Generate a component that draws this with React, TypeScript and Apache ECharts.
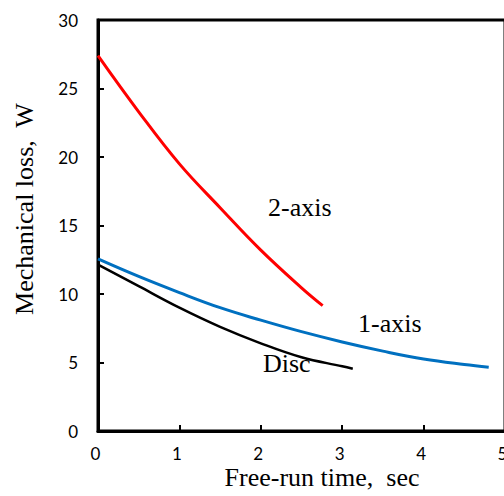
import React, { useEffect, useRef } from "react";
import * as echarts from "echarts";

const xTicks = [0, 1, 2, 3, 4, 5];
const yTicks = [0, 5, 10, 15, 20, 25, 30];

const twoAxisX = [0, 0.5, 1.0, 1.5, 2.0, 2.5, 2.76];
const twoAxisY = [27.4, 23.3, 19.5, 16.3, 13.2, 10.45, 9.15];

const oneAxisX = [0, 0.5, 1.0, 1.5, 2.0, 2.5, 3.0, 3.5, 4.0, 4.5, 4.8];
const oneAxisY = [12.56, 11.28, 10.1, 9.0, 8.09, 7.25, 6.5, 5.83, 5.25, 4.85, 4.66];

const discX = [0, 0.5, 1.0, 1.5, 2.0, 2.5, 3.0, 3.13];
const discY = [12.15, 10.57, 9.0, 7.6, 6.4, 5.38, 4.72, 4.54];

const xTitle = "Free-run time,  sec";
const yTitle = "Mechanical loss,  W";
const labels = ["2-axis", "1-axis", "Disc"];

const zip = (xs: number[], ys: number[]) => xs.map((x, i) => [x, ys[i]]);

export default function App() {
  const ref = useRef<HTMLDivElement>(null);
  useEffect(() => {
    if (!ref.current) return;
    const chart = echarts.init(ref.current, null, { renderer: "svg" });
    const serif = "'Liberation Serif', 'Times New Roman', serif";
    const sans = "Lato, 'Liberation Sans', sans-serif";
    const lineStyleAxis = { color: "#000", width: 3 };
    chart.setOption({
      animation: false,
      backgroundColor: "#fff",
      grid: {
        left: 98,
        top: 20,
        width: 407,
        height: 411,
        show: true,
        borderColor: "#000",
        borderWidth: 3,
        containLabel: false,
        outerBoundsMode: "none",
      },
      xAxis: {
        type: "value",
        min: xTicks[0],
        max: xTicks[xTicks.length - 1],
        interval: 1,
        axisLine: { show: true, lineStyle: lineStyleAxis },
        axisTick: { show: true, inside: true, length: 6, lineStyle: { color: "#000", width: 2 } },
        splitLine: { show: false },
        axisLabel: {
          show: true,
          margin: 14,
          color: "#000",
          fontFamily: sans,
          fontSize: 17,
          showMaxLabel: true,
          showMinLabel: true,
          padding: [0, 5, 0, 0],
        },
      },
      yAxis: {
        type: "value",
        min: yTicks[0],
        max: yTicks[yTicks.length - 1],
        interval: 5,
        axisLine: { show: true, lineStyle: lineStyleAxis },
        axisTick: { show: true, inside: true, length: 6, lineStyle: { color: "#000", width: 2 } },
        splitLine: { show: false },
        axisLabel: {
          show: true,
          margin: 20,
          color: "#000",
          fontFamily: sans,
          fontSize: 17,
        },
      },
      series: [
        {
          type: "line",
          name: labels[0],
          data: zip(twoAxisX, twoAxisY),
          smooth: 0.4,
          symbol: "none",
          lineStyle: { color: "#FF0000", width: 3 },
        },
        {
          type: "line",
          name: labels[1],
          data: zip(oneAxisX, oneAxisY),
          smooth: 0.4,
          symbol: "none",
          lineStyle: { color: "#0070C0", width: 3 },
        },
        {
          type: "line",
          name: labels[2],
          data: zip(discX, discY),
          smooth: 0.4,
          symbol: "none",
          lineStyle: { color: "#000000", width: 2.5 },
        },
      ],
      graphic: [
        {
          type: "text",
          x: 24,
          y: 209,
          rotation: Math.PI / 2,
          style: {
            text: yTitle,
            font: `26px ${serif}`,
            fill: "#000",
            textAlign: "center",
            textVerticalAlign: "middle",
          },
        },
        {
          type: "text",
          x: 322,
          y: 477,
          style: {
            text: xTitle,
            font: `26px ${serif}`,
            fill: "#000",
            textAlign: "center",
            textVerticalAlign: "middle",
          },
        },
        {
          type: "text",
          x: 268,
          y: 207,
          style: { text: labels[0], font: `26px ${serif}`, fill: "#000", textAlign: "left", textVerticalAlign: "middle" },
        },
        {
          type: "text",
          x: 358,
          y: 323,
          style: { text: labels[1], font: `26px ${serif}`, fill: "#000", textAlign: "left", textVerticalAlign: "middle" },
        },
        {
          type: "text",
          x: 263,
          y: 363,
          style: { text: labels[2], font: `26px ${serif}`, fill: "#000", textAlign: "left", textVerticalAlign: "middle" },
        },
      ],
    });
    return () => chart.dispose();
  }, []);
  return (
    <div
      ref={ref}
      style={{ position: "absolute", left: 0, top: 0, width: 504, height: 496, background: "#fff" }}
    />
  );
}
